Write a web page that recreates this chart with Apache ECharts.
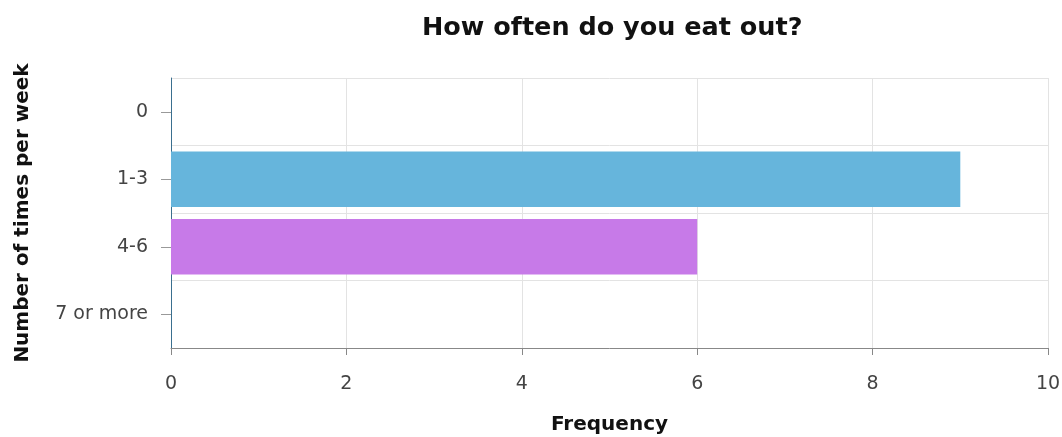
<!DOCTYPE html>
<html>
<head>
<meta charset="utf-8">
<script src="https://cdn.jsdelivr.net/npm/echarts@6/dist/echarts.min.js"></script>
<style>
  html, body { margin: 0; padding: 0; background: #fff; }
  #chart { width: 1062px; height: 437px; }
</style>
</head>
<body>
<div id="chart"></div>
<script>
// 数据
const categories = ['0', '1-3', '4-6', '7 or more'];
const frequency = [0, 9, 6, 0];
const barColors = ['#3a6f8f', '#66b5dc', '#c77ae8', '#3a6f8f'];
const xTicks = [0, 2, 4, 6, 8, 10];

const chart = echarts.init(document.getElementById('chart'));
const font = 'DejaVu Sans';

const option = {
  animation: false,
  title: {
    text: 'How often do you eat out?',
    left: 417,
    top: 10,
    textStyle: { fontFamily: font, fontSize: 25.5, fontWeight: 'bold', color: '#111' }
  },
  grid: { left: 171, right: 14, top: 78, bottom: 89, outerBoundsMode: 'none', containLabel: false },
  xAxis: {
    type: 'value',
    min: xTicks[0],
    max: xTicks[xTicks.length - 1],
    interval: 2,
    name: 'Frequency',
    nameLocation: 'middle',
    nameGap: 67,
    nameTextStyle: { fontFamily: font, fontSize: 20, fontWeight: 'bold', color: '#111' },
    axisLine: { show: true, lineStyle: { color: '#888' } },
    axisTick: { show: true, length: 7, lineStyle: { color: '#888' } },
    axisLabel: { fontFamily: font, fontSize: 19, color: '#444', margin: 27 },
    splitLine: { show: true, lineStyle: { color: '#e3e3e3' } }
  },
  yAxis: {
    type: 'category',
    data: categories,
    inverse: true,
    name: 'Number of times per week',
    nameLocation: 'middle',
    nameGap: 138,
    nameTextStyle: { fontFamily: font, fontSize: 20, fontWeight: 'bold', color: '#111' },
    axisLine: { show: true, lineStyle: { color: '#3a6f8f' } },
    axisTick: { show: true, alignWithLabel: true, length: 10, lineStyle: { color: '#999' } },
    axisLabel: { fontFamily: font, fontSize: 19, color: '#444', margin: 23 },
    splitLine: { show: true, lineStyle: { color: '#e3e3e3' } }
  },
  series: [{
    type: 'bar',
    data: frequency.map((v, i) => ({ value: v, itemStyle: { color: barColors[i] } })),
    barCategoryGap: '18%'
  }]
};

chart.setOption(option);
</script>
</body>
</html>
